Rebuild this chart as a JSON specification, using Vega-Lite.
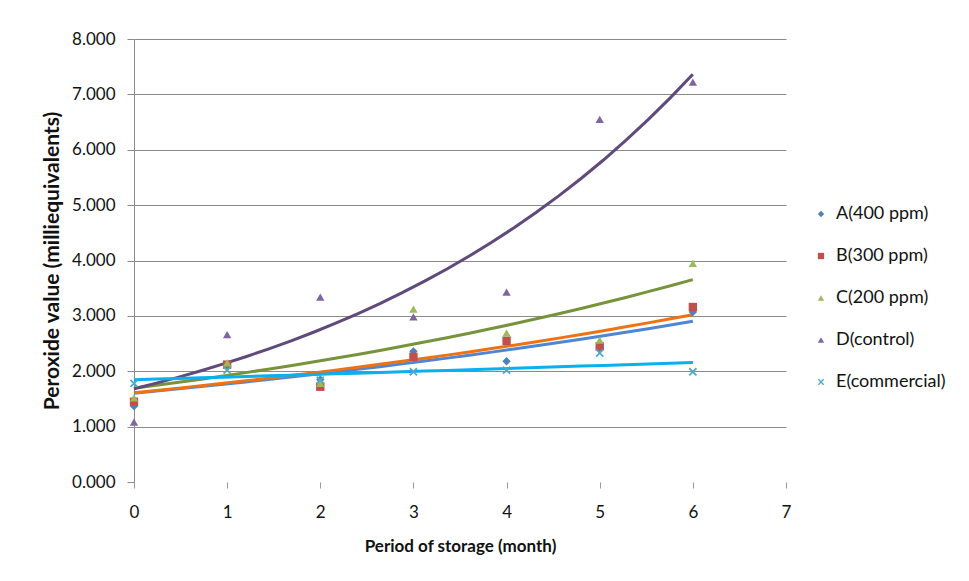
{
  "$schema": "https://vega.github.io/schema/vega-lite/v6.json",
  "width": 652,
  "height": 443,
  "autosize": {"type": "none"},
  "padding": {"left": 134, "top": 39, "right": 183, "bottom": 99},
  "background": "white",
  "config": {"view": {"stroke": null}, "font": "Lato"},
  "data": {
    "values": [
      {"series": "A(400 ppm)", "month": 0, "value": 1.37},
      {"series": "A(400 ppm)", "month": 1, "value": 2.08},
      {"series": "A(400 ppm)", "month": 2, "value": 1.85},
      {"series": "A(400 ppm)", "month": 3, "value": 2.36},
      {"series": "A(400 ppm)", "month": 4, "value": 2.18},
      {"series": "A(400 ppm)", "month": 5, "value": 2.42},
      {"series": "A(400 ppm)", "month": 6, "value": 3.07},
      {"series": "B(300 ppm)", "month": 0, "value": 1.45},
      {"series": "B(300 ppm)", "month": 1, "value": 2.12},
      {"series": "B(300 ppm)", "month": 2, "value": 1.72},
      {"series": "B(300 ppm)", "month": 3, "value": 2.26},
      {"series": "B(300 ppm)", "month": 4, "value": 2.55},
      {"series": "B(300 ppm)", "month": 5, "value": 2.45},
      {"series": "B(300 ppm)", "month": 6, "value": 3.16},
      {"series": "C(200 ppm)", "month": 0, "value": 1.52},
      {"series": "C(200 ppm)", "month": 1, "value": 2.15},
      {"series": "C(200 ppm)", "month": 2, "value": 1.78},
      {"series": "C(200 ppm)", "month": 3, "value": 3.12},
      {"series": "C(200 ppm)", "month": 4, "value": 2.69},
      {"series": "C(200 ppm)", "month": 5, "value": 2.56},
      {"series": "C(200 ppm)", "month": 6, "value": 3.95},
      {"series": "D(control)", "month": 0, "value": 1.08},
      {"series": "D(control)", "month": 1, "value": 2.66},
      {"series": "D(control)", "month": 2, "value": 3.34},
      {"series": "D(control)", "month": 3, "value": 2.98},
      {"series": "D(control)", "month": 4, "value": 3.43},
      {"series": "D(control)", "month": 5, "value": 6.55},
      {"series": "D(control)", "month": 6, "value": 7.22},
      {"series": "E(commercial)", "month": 0, "value": 1.78},
      {"series": "E(commercial)", "month": 1, "value": 2.02},
      {"series": "E(commercial)", "month": 2, "value": 1.84},
      {"series": "E(commercial)", "month": 3, "value": 1.99},
      {"series": "E(commercial)", "month": 4, "value": 2.02},
      {"series": "E(commercial)", "month": 5, "value": 2.33},
      {"series": "E(commercial)", "month": 6, "value": 1.99}
    ]
  },
  "encoding": {
    "x": {
      "field": "month",
      "type": "quantitative",
      "scale": {"domain": [0, 7], "nice": false, "zero": false},
      "axis": {
        "values": [0, 1, 2, 3, 4, 5, 6, 7],
        "format": "d",
        "grid": false,
        "domain": false,
        "ticks": true,
        "tickSize": 6,
        "tickColor": "#999999",
        "labelFlush": false,
        "labelFontSize": 17,
        "labelColor": "#111111",
        "labelPadding": 16,
        "title": "Period of storage (month)",
        "titleFontSize": 17,
        "titleFontWeight": "bold",
        "titleColor": "#111111",
        "titlePadding": 18
      }
    },
    "y": {
      "field": "value",
      "type": "quantitative",
      "scale": {"domain": [0, 8], "nice": false},
      "axis": {
        "values": [0, 1, 2, 3, 4, 5, 6, 7, 8],
        "format": ".3f",
        "grid": true,
        "gridColor": {"condition": {"test": "datum.value === 0", "value": "transparent"}, "value": "#8a8a8a"},
        "gridWidth": 1,
        "domain": true,
        "domainColor": "#8a8a8a",
        "tickSize": 7,
        "tickColor": "#8a8a8a",
        "labelFontSize": 17,
        "labelColor": "#111111",
        "labelPadding": 12,
        "title": "Peroxide value (milliequivalents)",
        "titleFontSize": 21,
        "titleFontWeight": "bold",
        "titleColor": "#111111",
        "titlePadding": 9
      }
    }
  },
  "layer": [
    {
      "transform": [
        {"regression": "value", "on": "month", "groupby": ["series"], "method": "exp"}
      ],
      "mark": {"type": "line", "strokeWidth": 3},
      "encoding": {
        "stroke": {
          "field": "series",
          "type": "nominal",
          "scale": {
            "domain": ["E(commercial)", "D(control)", "C(200 ppm)", "B(300 ppm)", "A(400 ppm)"],
            "range": ["#08B0F0", "#5F4A7B", "#77933C", "#EE7212", "#4F86D4"]
          },
          "legend": null
        }
      }
    },
    {
      "mark": {"type": "point", "filled": true, "size": 70, "opacity": 1},
      "encoding": {
        "color": {
          "field": "series",
          "type": "nominal",
          "scale": {
            "domain": ["A(400 ppm)", "B(300 ppm)", "C(200 ppm)", "D(control)", "E(commercial)"],
            "range": ["#4F81BD", "#C0504D", "#9BBB59", "#8064A2", "#4BACC6"]
          },
          "legend": {
            "orient": "none",
            "legendX": 678,
            "legendY": 166,
            "title": null,
            "labelFontSize": 18,
            "labelColor": "#111111",
            "symbolSize": 40,
            "rowPadding": 24,
            "labelOffset": 6
          }
        },
        "shape": {
          "field": "series",
          "type": "nominal",
          "scale": {
            "domain": ["A(400 ppm)", "B(300 ppm)", "C(200 ppm)", "D(control)", "E(commercial)"],
            "range": ["diamond", "square", "triangle-up", "triangle-up", "M-1,-0.7L-0.7,-1L0,-0.3L0.7,-1L1,-0.7L0.3,0L1,0.7L0.7,1L0,0.3L-0.7,1L-1,0.7L-0.3,0Z"]
          },
          "legend": {
            "orient": "none",
            "legendX": 678,
            "legendY": 166,
            "title": null,
            "labelFontSize": 18,
            "labelColor": "#111111",
            "symbolSize": 40,
            "rowPadding": 24,
            "labelOffset": 6
          }
        }
      }
    }
  ]
}
